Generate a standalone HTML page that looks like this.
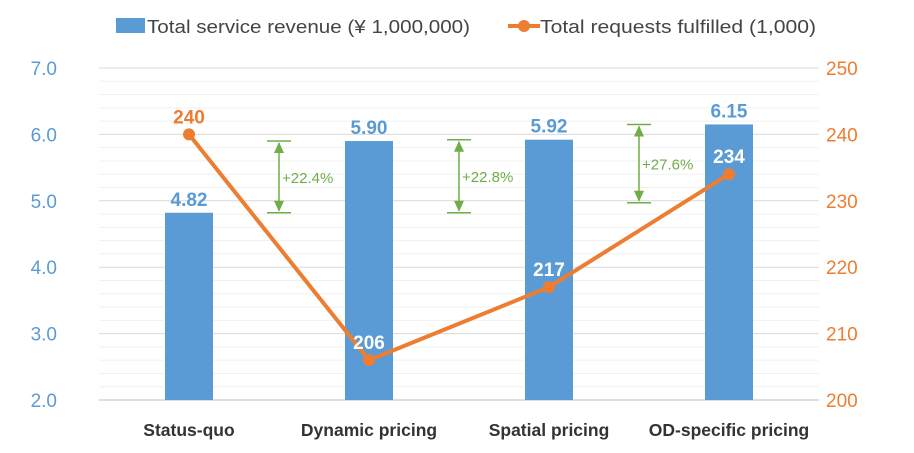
<!DOCTYPE html>
<html><head><meta charset="utf-8"><style>
body{margin:0;background:#fff;width:914px;height:448px;overflow:hidden}
svg{font-family:"Liberation Sans",sans-serif}
</style></head><body>
<svg id="c" width="914" height="448"></svg>
<script>
const categories=["Status-quo","Dynamic pricing","Spatial pricing","OD-specific pricing"];
const revenue=[4.82,5.90,5.92,6.15];
const requests=[240,206,217,234];
const leftTicks=[2,3,4,5,6,7];
const rightTicks=[200,210,220,230,240,250];
const growthLabels=["+22.4%","+22.8%","+27.6%"];
const growthTops=[5.90,5.92,6.15];
const growthBottoms=[4.82,4.82,4.97];

const NS="http://www.w3.org/2000/svg",svg=document.getElementById('c');
const X0=99,X1=819,Y0=400,Y1=68,step=(X1-X0)/categories.length;
const yL=v=>Y0-(v-2)/5*(Y0-Y1), yR=v=>Y0-(v-200)/50*(Y0-Y1), xc=i=>X0+step*(i+0.5);
function mk(t,a,txt){const e=document.createElementNS(NS,t);for(const k in a)e.setAttribute(k,a[k]);if(txt!=null)e.textContent=txt;svg.appendChild(e);return e;}
for(let v=2;v<=7.001;v+=0.2){const g=mk('line',{x1:X0,x2:X1,y1:yL(v),y2:yL(v),stroke:Math.abs(v-Math.round(v))<0.01?'#d9d9d9':'#f0f0f0','stroke-width':1});

}
mk('line',{x1:X0,x2:X1,y1:Y0,y2:Y0,stroke:'#bfbfbf','stroke-width':1,});
leftTicks.forEach(v=>{const t=mk('text',{x:57,y:yL(v)+7,'text-anchor':'end','font-size':19,fill:'#5b9bd5'},v.toFixed(1));

});
rightTicks.forEach(v=>{const t=mk('text',{x:826,y:yR(v)+7,'font-size':19,fill:'#ed7d31'},v);

});
categories.forEach((c,i)=>{const t=mk('text',{x:xc(i),y:436,'text-anchor':'middle','font-size':17.5,'font-weight':'bold',fill:'#333'},c);

});
revenue.forEach((v,i)=>{const b=mk('rect',{x:xc(i)-24,y:yL(v),width:48,height:Y0-yL(v),fill:'#5b9bd5'});


const t=mk('text',{x:xc(i),y:yL(v)-7,'text-anchor':'middle','font-size':19,'font-weight':'bold',fill:'#5b9bd5'},v.toFixed(2));

});
growthLabels.forEach((l,i)=>{const x=X0+step*(i+1),ya=yL(growthTops[i]),yb=yL(growthBottoms[i]);const c='#70ad47';
[ya,yb].forEach(y=>{const h=mk('line',{x1:x-12,x2:x+12,y1:y,y2:y,stroke:c,'stroke-width':1.5});});
const s=mk('line',{x1:x,x2:x,y1:ya+2,y2:yb-2,stroke:c,'stroke-width':1.5});
mk('polygon',{points:`${x},${ya+1} ${x-5},${ya+12} ${x+5},${ya+12}`,fill:c});
mk('polygon',{points:`${x},${yb-1} ${x-5},${yb-12} ${x+5},${yb-12}`,fill:c});
const t=mk('text',{x:x+3,y:(ya+yb)/2+6,'font-size':15,fill:c},l);

});
const pl=mk('polyline',{points:requests.map((v,i)=>xc(i)+','+yR(v)).join(' '),fill:'none',stroke:'#ed7d31','stroke-width':4,'stroke-linejoin':'round'});


requests.forEach((v,i)=>{const p=mk('circle',{cx:xc(i),cy:yR(v),r:6,fill:'#ed7d31'});


const first=i===0;const t=mk('text',{x:xc(i),y:yR(v)-11,'text-anchor':'middle','font-size':19,'font-weight':'bold',fill:first?'#ed7d31':'#fff'},v);

});
const lg1=mk('rect',{x:116,y:18,width:29,height:15,fill:'#5b9bd5'});
const lt1=mk('text',{x:147,y:33,'font-size':18,fill:'#444',textLength:323,lengthAdjust:'spacingAndGlyphs'},'Total service revenue (¥ 1,000,000)');
const lg2=mk('line',{x1:508,x2:540,y1:26,y2:26,stroke:'#ed7d31','stroke-width':4});
mk('circle',{cx:524,cy:26,r:6,fill:'#ed7d31'});
const lt2=mk('text',{x:540,y:33,'font-size':18,fill:'#444',textLength:276,lengthAdjust:'spacingAndGlyphs'},'Total requests fulfilled (1,000)');
</script>
</body></html>
